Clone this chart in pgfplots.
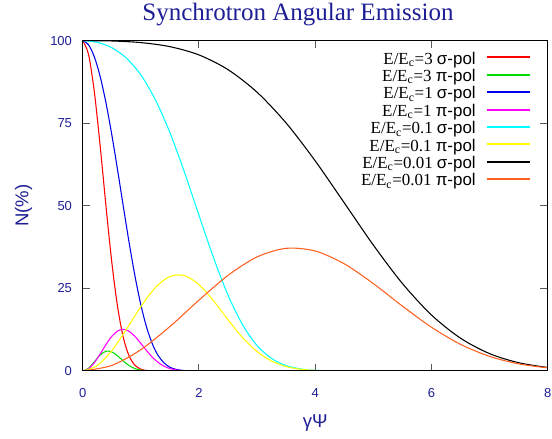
\documentclass[border=0pt]{standalone}
\usepackage{fontspec}
\setmainfont{Liberation Serif}
\setsansfont{Liberation Sans}
\usepackage{pgfplots}
\pgfplotsset{compat=1.18}
\usetikzlibrary{calc}
\definecolor{tcol}{RGB}{30,30,150}
\definecolor{cred}{RGB}{255,0,0}
\definecolor{cgreen}{RGB}{0,220,0}
\definecolor{cblue}{RGB}{0,0,230}
\definecolor{cmag}{RGB}{255,0,255}
\definecolor{ccyan}{RGB}{0,255,255}
\definecolor{cyel}{RGB}{255,255,0}
\definecolor{cblack}{RGB}{0,0,0}
\definecolor{corange}{RGB}{255,96,32}
\newcommand\lstrut{\rule[-3.15pt]{0pt}{14.7pt}}
\newcommand\ent[2]{\lstrut{\rmfamily E/E\textsubscript{c}=#1} {\sffamily #2-pol}}
\begin{document}
\begin{tikzpicture}
\begin{axis}[
  name=ax,
  scale only axis, width=348.75pt, height=247.7pt,
  xmin=0, xmax=8, ymin=0, ymax=100,
  xtick={0,2,4,6,8}, ytick={0,25,50,75,100},
  tick align=inside,
  major tick length=5.5pt,
  minor tick num=0,
  axis line style={line width=0.75pt},
  major tick style={line width=0.75pt, black!65},
  axis on top,
  /pgf/number format/assume math mode=true,
  ticklabel style={font=\sffamily\fontsize{9.75pt}{11pt}\selectfont, text=tcol},
  xticklabel style={yshift=-9.5pt},
  yticklabel style={xshift=-4.5pt},
  title={Synchrotron Angular Emission},
  every axis title/.style={at={(axis description cs:0.463,1.0612)}, anchor=base, font=\rmfamily\fontsize{18.75pt}{22pt}\selectfont, text=tcol},
  xlabel={γΨ},
  xlabel style={at={(axis description cs:0.5,-0.1726)}, anchor=base, font=\sffamily\fontsize{13.9pt}{16pt}\selectfont, text=tcol},
  ylabel={N(\%)},
  ylabel style={at={(axis description cs:-0.117,0.5)}, anchor=base, font=\sffamily\fontsize{13.9pt}{16pt}\selectfont, text=tcol},
  every axis plot/.append style={line width=0.8pt, smooth},
  legend plot pos=right,
  legend cell align=right,
  legend image code/.code={\draw[#1, line width=1.5pt] (0pt,0pt) -- (32.3pt,0pt);},
  legend style={draw=none, fill=none, inner sep=0pt, at={(axis description cs:0.9641,0.9764)}, anchor=north east, row sep=0pt, column sep=7.5pt, font=\fontsize{12.7pt}{14pt}\selectfont, nodes={inner sep=0pt}},
]
\addplot[cred] coordinates {(0,100)(0.1,95.9)(0.2,84.6)(0.3,68.3)(0.4,50.1)(0.5,33.1)(0.6,19.5)(0.7,10.06)(0.8,4.50)(0.9,1.72)(1.0,0.55)(1.1,0.15)(1.2,0.03)(1.4,0)(8,0)};
\addlegendentry{\ent{3}{σ}}
\addplot[cgreen] coordinates {(0,0)(0.1,0.80)(0.2,2.76)(0.3,4.82)(0.4,5.98)(0.5,5.80)(0.6,4.58)(0.7,2.98)(0.8,1.60)(0.9,0.71)(1.0,0.26)(1.1,0.075)(1.2,0.018)(1.4,0)(8,0)};
\addlegendentry{\ent{3}{π}}
\addplot[cblue] coordinates {(0,100)(0.1,98.77)(0.2,95.13)(0.3,89.21)(0.4,81.26)(0.5,71.65)(0.6,60.91)(0.7,49.72)(0.8,38.76)(0.9,28.72)(1.0,20.09)(1.1,13.21)(1.2,8.12)(1.3,4.63)(1.4,2.44)(1.5,1.13)(1.6,0.52)(1.7,0.20)(1.8,0.075)(1.9,0.025)(2.0,0.008)(2.2,0)(8,0)};
\addlegendentry{\ent{1}{σ}}
\addplot[cmag] coordinates {(0,0)(0.1,0.66)(0.2,2.50)(0.3,5.12)(0.4,7.98)(0.5,10.47)(0.6,12.11)(0.7,12.62)(0.8,11.99)(0.9,10.45)(1.0,8.36)(1.1,6.15)(1.2,4.15)(1.3,2.56)(1.4,1.44)(1.5,0.72)(1.6,0.34)(1.7,0.14)(1.8,0.053)(1.9,0.02)(2.0,0.007)(2.2,0)(8,0)};
\addlegendentry{\ent{1}{π}}
\addplot[ccyan] coordinates {(0,100)(0.25,99.51)(0.5,97.88)(0.75,94.75)(1.0,89.64)(1.25,82.14)(1.5,72.19)(1.75,60.21)(2.0,47.17)(2.25,34.34)(2.5,22.98)(2.75,14.01)(3.0,7.69)(3.25,3.77)(3.5,1.63)(3.75,0.62)(4.0,0.20)(4.25,0.06)(4.5,0.015)(5,0)(8,0)};
\addlegendentry{\ent{0.1}{σ}}
\addplot[cyel] coordinates {(0,0)(0.25,1.62)(0.5,6.14)(0.75,12.56)(1.0,19.45)(1.25,25.24)(1.5,28.61)(1.75,28.89)(2.0,26.13)(2.25,21.25)(2.5,15.51)(2.75,10.11)(3.0,5.86)(3.25,3.00)(3.5,1.34)(3.75,0.52)(4.0,0.18)(4.25,0.05)(4.5,0.013)(5,0)(8,0)};
\addlegendentry{\ent{0.1}{π}}
\addplot[cblack] coordinates {(0,100)(0.5,99.91)(1,99.42)(1.5,98.19)(2,95.69)(2.5,91.23)(3,84.39)(3.5,75.07)(4,63.61)(4.5,50.90)(5,38.12)(5.5,26.49)(6,16.95)(6.5,9.92)(7,5.25)(7.5,2.50)(8,1.06)};
\addlegendentry{\ent{0.01}{σ}}
\addplot[corange] coordinates {(0,0)(0.5,1.68)(1,6.44)(1.5,13.44)(2,21.44)(2.5,28.95)(3,34.53)(3.5,37.13)(4,36.32)(4.5,32.45)(5,26.46)(5.5,19.65)(6,13.24)(6.5,8.07)(7,4.42)(7.5,2.16)(8,0.94)};
\addlegendentry{\ent{0.01}{π}}
\end{axis}
\pgfresetboundingbox
\path[use as bounding box] ($(ax.south west)+(-62pt,-51pt)$) rectangle ($(ax.north east)+(3.2pt,30.5pt)$);
\end{tikzpicture}
\end{document}
